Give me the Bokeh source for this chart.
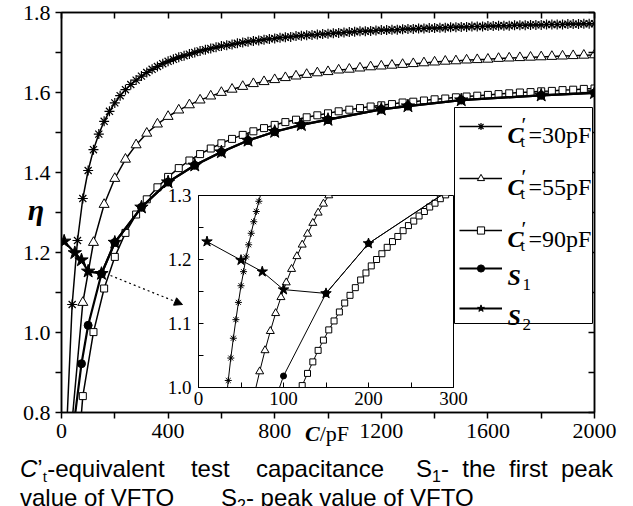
import math
from bokeh.plotting import figure
from bokeh.models import (Range1d, FixedTicker, LinearAxis, NumeralTickFormatter, Legend, LegendItem,
                          BoxAnnotation, Label, Arrow, NormalHead, Div, GridBox, ColumnDataSource)
from bokeh.embed import file_html
from bokeh.resources import INLINE

# ---------------- data ----------------
# C't = 30 pF  (main panel)
c30_x = [20, 40, 60, 80, 100, 120, 140, 160, 180, 200,
         220, 240, 260, 280, 300, 320, 340, 360, 380, 400,
         420, 440, 460, 480, 500, 520, 540, 560, 580, 600,
         620, 640, 660, 680, 700, 720, 740, 760, 780, 800,
         820, 840, 860, 880, 900, 920, 940, 960, 980, 1000,
         1020, 1040, 1060, 1080, 1100, 1120, 1140, 1160, 1180, 1200,
         1220, 1240, 1260, 1280, 1300, 1320, 1340, 1360, 1380, 1400,
         1420, 1440, 1460, 1480, 1500, 1520, 1540, 1560, 1580, 1600,
         1620, 1640, 1660, 1680, 1700, 1720, 1740, 1760, 1780, 1800,
         1820, 1840, 1860, 1880, 1900, 1920, 1940, 1960, 1980, 2000]
c30_y = [0.77, 1.07, 1.23, 1.335, 1.405, 1.457, 1.496, 1.528, 1.553, 1.574,
         1.592, 1.607, 1.620, 1.631, 1.641, 1.650, 1.658, 1.665, 1.672, 1.678,
         1.683, 1.688, 1.692, 1.696, 1.700, 1.704, 1.707, 1.710, 1.713, 1.716,
         1.718, 1.720, 1.723, 1.725, 1.727, 1.729, 1.730, 1.732, 1.734, 1.735,
         1.737, 1.738, 1.739, 1.741, 1.742, 1.743, 1.744, 1.745, 1.746, 1.747,
         1.748, 1.749, 1.750, 1.751, 1.752, 1.753, 1.753, 1.754, 1.755, 1.756,
         1.756, 1.757, 1.757, 1.758, 1.759, 1.759, 1.760, 1.760, 1.761, 1.761,
         1.762, 1.762, 1.763, 1.763, 1.764, 1.764, 1.765, 1.765, 1.765, 1.766,
         1.766, 1.767, 1.767, 1.767, 1.768, 1.768, 1.768, 1.769, 1.769, 1.769,
         1.770, 1.770, 1.770, 1.770, 1.771, 1.771, 1.771, 1.772, 1.772, 1.772]

# C't = 55 pF and 90 pF share one capacitance grid
c55_90_x = [40, 80, 120, 160, 200, 240, 280, 320, 360, 400,
            440, 480, 520, 560, 600, 640, 680, 720, 760, 800,
            840, 880, 920, 960, 1000, 1040, 1080, 1120, 1160, 1200,
            1240, 1280, 1320, 1360, 1400, 1440, 1480, 1520, 1560, 1600,
            1640, 1680, 1720, 1760, 1800, 1840, 1880, 1920, 1960, 2000]
c55_y = [0.78, 1.075, 1.225, 1.320, 1.385, 1.433, 1.469, 1.498, 1.521, 1.540,
         1.556, 1.569, 1.581, 1.591, 1.600, 1.608, 1.615, 1.622, 1.627, 1.632,
         1.637, 1.641, 1.645, 1.649, 1.652, 1.656, 1.658, 1.661, 1.664, 1.666,
         1.668, 1.670, 1.672, 1.674, 1.676, 1.678, 1.679, 1.681, 1.682, 1.683,
         1.685, 1.686, 1.687, 1.688, 1.689, 1.690, 1.691, 1.692, 1.693, 1.694]
c90_y = [0.51, 0.841, 1.001, 1.110, 1.189, 1.249, 1.295, 1.333, 1.363, 1.389,
         1.411, 1.430, 1.446, 1.460, 1.473, 1.484, 1.494, 1.503, 1.511, 1.519,
         1.526, 1.532, 1.538, 1.543, 1.548, 1.553, 1.557, 1.561, 1.565, 1.568,
         1.571, 1.575, 1.577, 1.580, 1.583, 1.585, 1.588, 1.590, 1.592, 1.594,
         1.596, 1.598, 1.600, 1.601, 1.603, 1.604, 1.606, 1.607, 1.609, 1.610]

# S1 - first peak value, S2 - peak value
s1_x = [50, 75, 100, 150, 200, 300, 400, 500, 600, 700, 800, 900, 1000, 1200, 1300, 1500, 1800, 2000]
s1_y = [0.79, 0.922, 1.018, 1.147, 1.225, 1.313, 1.376, 1.418, 1.451, 1.480, 1.502, 1.519, 1.532,
        1.558, 1.566, 1.581, 1.593, 1.599]
s2_x = [10, 50, 75, 100, 150, 200, 300, 400, 500, 600, 700, 800, 900, 1000, 1200, 1300, 1500, 1800, 2000]
s2_y = [1.228, 1.199, 1.181, 1.153, 1.147, 1.225, 1.313, 1.376, 1.418, 1.451, 1.480, 1.502, 1.519, 1.532,
        1.558, 1.566, 1.581, 1.593, 1.599]

# inset (0-300 pF) finer curves
in30_x = [32, 35, 38, 41, 44, 47, 50, 53, 56, 59, 62, 65, 68, 71, 74]
in30_y = [0.972, 1.011, 1.046, 1.077, 1.106, 1.133, 1.159, 1.181, 1.204, 1.223, 1.241, 1.259, 1.275, 1.291, 1.306]
in55_x = [65.75, 72, 78.25, 84.5, 90.75, 97, 103.25, 109.5, 115.75, 122, 128.25, 134.5, 140.75, 147, 153.25, 159.5]
in55_y = [0.99, 1.025, 1.058, 1.088, 1.116, 1.141, 1.164, 1.185, 1.205, 1.223, 1.240, 1.257, 1.273, 1.287, 1.300, 1.313]
in90_x = [115.75, 122, 128.25, 134.5, 140.75, 147, 153.25, 159.5, 165.75, 172, 178.25, 184.5, 190.75, 197,
          203.25, 209.5, 215.75, 222, 228.25, 234.5, 240.75, 247, 253.25, 259.5, 265.75, 272, 278.25,
          284.5, 290.75]
in90_y = [0.985, 1.003, 1.022, 1.040, 1.058, 1.074, 1.090, 1.104, 1.118, 1.132, 1.144, 1.156, 1.168, 1.179,
          1.190, 1.200, 1.209, 1.219, 1.228, 1.236, 1.245, 1.253, 1.260, 1.268, 1.275, 1.282, 1.288,
          1.295, 1.301]

# ticks
X_MAJOR = [0, 400, 800, 1200, 1600, 2000]
X_MINOR = [200, 600, 1000, 1400, 1800]
Y_MAJOR = [0.8, 1.0, 1.2, 1.4, 1.6, 1.8]
Y_MINOR = [0.9, 1.1, 1.3, 1.5, 1.7]
IX_MAJOR = [0, 100, 200, 300]
IX_MINOR = [50, 150, 250]
IY_MAJOR = [1.0, 1.1, 1.2, 1.3]
IY_MINOR = [1.05, 1.15, 1.25]

LEG_TEXT = ["=30pF", "=55pF", "=90pF"]

SERIF = "Liberation Serif"

# ---------------- layout constants (pixels) ----------------
W, H = 633, 506
FL, FR, FT, FB = 61, 594, 12, 412          # main frame
IL, IR, IT, IB = 198, 453, 195, 387        # inset frame
IBL, IBR, IBT, IBB = 45, 20, 12, 30        # inset borders


def sx(px):
    return px - FL


def sy(py):
    return FB - py


# ---------------- main figure ----------------
p = figure(width=W, height=H, x_range=Range1d(0, 2000), y_range=Range1d(0.8, 1.8),
           output_backend="svg", toolbar_location=None,
           min_border_left=FL, min_border_right=W - FR, min_border_top=FT, min_border_bottom=H - FB)
p.grid.visible = False
p.background_fill_color = "white"
p.border_fill_color = "white"
p.outline_line_color = "black"
p.outline_line_width = 1.5


def series(fig, xs, ys, marker, size, fill, lw, mlw=1.0):
    src = ColumnDataSource(dict(x=xs, y=ys))
    ln = fig.line("x", "y", source=src, line_color="black", line_width=lw)
    sc = fig.scatter("x", "y", source=src, marker=marker, size=size, fill_color=fill,
                     line_color="black", line_width=mlw)
    return [ln, sc]


r30 = series(p, c30_x, c30_y, "asterisk", 10, None, 1.5, 1.2)
r55 = series(p, c55_90_x, c55_y, "triangle", 10, "white", 1.5)
r90 = series(p, c55_90_x, c90_y, "square", 7, "white", 1.5)
rs1 = series(p, s1_x, s1_y, "circle", 8, "black", 2.2)
rs2 = series(p, s2_x, s2_y, "star", 14, "black", 2.2)


def style_axis(ax, tin, tout, fs, standoff):
    ax.axis_line_width = 1.5
    ax.major_tick_line_width = 1.5
    ax.minor_tick_line_width = 1.5
    ax.major_tick_in = tin
    ax.major_tick_out = tout
    ax.minor_tick_in = tin
    ax.minor_tick_out = tout
    ax.major_label_text_font = SERIF
    ax.major_label_text_font_size = fs
    ax.major_label_text_color = "black"
    ax.major_label_standoff = standoff


p.xaxis.ticker = FixedTicker(ticks=X_MAJOR, minor_ticks=X_MINOR)
p.yaxis.ticker = FixedTicker(ticks=Y_MAJOR, minor_ticks=Y_MINOR)
p.yaxis.formatter = NumeralTickFormatter(format="0.0")
style_axis(p.xaxis[0], 0, 6, "22px", 5)
style_axis(p.yaxis[0], 0, 6, "22px", 5)

top_ax = LinearAxis(ticker=FixedTicker(ticks=X_MAJOR, minor_ticks=X_MINOR))
right_ax = LinearAxis(ticker=FixedTicker(ticks=Y_MAJOR, minor_ticks=Y_MINOR))
for ax in (top_ax, right_ax):
    style_axis(ax, 6, 0, "0px", 0)
p.add_layout(top_ax, "above")
p.add_layout(right_ax, "right")

# dotted arrow pointing at the inset
p.add_layout(Arrow(end=NormalHead(size=8, fill_color="black", line_color="black", line_width=1),
                   x_start=184, y_start=1.1425, x_end=454, y_end=1.07,
                   line_color="black", line_width=1.2, line_dash="2 3"))

# legend frame
p.add_layout(BoxAnnotation(left=sx(454), right=sx(592), top=sy(107), bottom=sy(323),
                           left_units="screen", right_units="screen", top_units="screen",
                           bottom_units="screen", fill_color="white", fill_alpha=1.0,
                           line_color="black", line_alpha=1.0, line_width=1))

LEG_Y = [126, 178, 230, 268, 308]
GH = 18
for rend, yc in zip([r30, r55, r90, rs1, rs2], LEG_Y):
    lg = Legend(items=[LegendItem(label=" ", renderers=rend)],
                location=(sx(459), sy(yc + GH / 2)),
                padding=0, margin=0, spacing=0, glyph_width=43, glyph_height=GH,
                label_width=1, label_height=GH, label_standoff=0, label_text_font_size="1px",
                border_line_alpha=0, background_fill_alpha=0)
    p.add_layout(lg)


def txt(px, py, text, size, style="normal", font=SERIF):
    p.add_layout(Label(x=sx(px), y=sy(py), x_units="screen", y_units="screen", text=text,
                       text_font=font, text_font_size=size, text_font_style=style,
                       text_align="left", text_baseline="alphabetic", text_color="black"))


for k in range(3):
    yc = LEG_Y[k]
    txt(507, yc + 8, "C", "24px", "bold italic")
    txt(521, yc - 2, "\u2032", "22px")
    txt(520, yc + 15, "t", "16px")
    txt(528, yc + 8, LEG_TEXT[k], "24px")
for k, sub in ((3, "1"), (4, "2")):
    yc = LEG_Y[k]
    txt(507, yc + 8, "S", "24px", "bold italic")
    txt(522, yc + 16, sub, "17px")

# ---------------- inset figure ----------------
ins = figure(width=IBL + (IR - IL) + IBR, height=IBT + (IB - IT) + IBB,
             x_range=Range1d(0, 300), y_range=Range1d(1.0, 1.3),
             output_backend="svg", toolbar_location=None,
             min_border_left=IBL, min_border_right=IBR, min_border_top=IBT, min_border_bottom=IBB)
ins.grid.visible = False
ins.border_fill_color = None
ins.background_fill_color = "white"
ins.outline_line_color = "black"
ins.outline_line_width = 1

series(ins, in30_x, in30_y, "asterisk", 7, None, 1.0)
series(ins, in55_x, in55_y, "triangle", 8, "white", 1.0)
series(ins, in90_x, in90_y, "square", 6, "white", 1.0)
series(ins, s1_x, s1_y, "circle", 6, "black", 1.0)
series(ins, s2_x, s2_y, "star", 11, "black", 1.0)

ins.xaxis.ticker = FixedTicker(ticks=IX_MAJOR, minor_ticks=IX_MINOR)
ins.yaxis.ticker = FixedTicker(ticks=IY_MAJOR, minor_ticks=IY_MINOR)
ins.yaxis.formatter = NumeralTickFormatter(format="0.0")
style_axis(ins.xaxis[0], 5, 0, "19px", 4)
style_axis(ins.yaxis[0], 5, 0, "19px", 7)
for ax in (ins.xaxis[0], ins.yaxis[0]):
    ax.axis_line_width = 1
    ax.major_tick_line_width = 1
    ax.minor_tick_line_width = 1

# ---------------- axis titles and caption (HTML overlay) ----------------
SUB = "font-size:16px;line-height:0;vertical-align:-5px"
JUST = "position:absolute;top:%dpx;left:%dpx;width:%dpx;text-align:justify;text-align-last:justify;white-space:nowrap"
PLAIN = "position:absolute;top:%dpx;left:%dpx;white-space:nowrap"
overlay_html = (
    "<div style=\"position:relative;width:633px;height:506px;color:#000;"
    "font-family:'Liberation Sans',Arial,sans-serif;font-size:24px;line-height:27px\">"
    # y-axis title
    "<div style=\"position:absolute;left:16px;top:190px;width:30px;text-align:center;"
    "font-family:'Liberation Serif',serif;font-size:30px;line-height:30px;font-weight:bold;"
    "font-style:italic\">\u03b7</div>"
    # x-axis title
    "<div style=\"position:absolute;left:300px;top:418px;white-space:nowrap;"
    "font-family:'Liberation Serif',serif;font-size:22px;line-height:22px\">"
    "<b><i>C</i></b>/pF</div>"
    # caption line 1
    "<div style='" + JUST % (450, 15, 364) + "'><i>C</i>\u2019<sub style=\"font-family:'Liberation Serif';"
    + SUB + "\">t</sub>-equivalent test capacitance</div>"
    "<div style='" + JUST % (450, 411, 197) + "'>S<sub style='" + SUB + "'>1</sub>- the first peak</div>"
    # caption line 2
    "<div style='" + PLAIN % (479, 15) + "'>value of VFTO</div>"
    "<div style='" + PLAIN % (479, 216) + "'>S<sub style='" + SUB + "'>2</sub>- peak value of VFTO</div>"
    "</div>"
)
overlay = Div(text=overlay_html, width=W, height=H)

root = GridBox(children=[(p, 0, 0, 3, 3), (overlay, 0, 0, 3, 3), (ins, 1, 1, 1, 1)],
               rows=["%dpx" % (IT - IBT), "%dpx" % (IBT + IB - IT + IBB), "%dpx" % (H - (IB + IBB))],
               cols=["%dpx" % (IL - IBL), "%dpx" % (IBL + IR - IL + IBR), "%dpx" % (W - (IR + IBR))],
               spacing=0)

open("out.html", "w").write(file_html(root, INLINE))
